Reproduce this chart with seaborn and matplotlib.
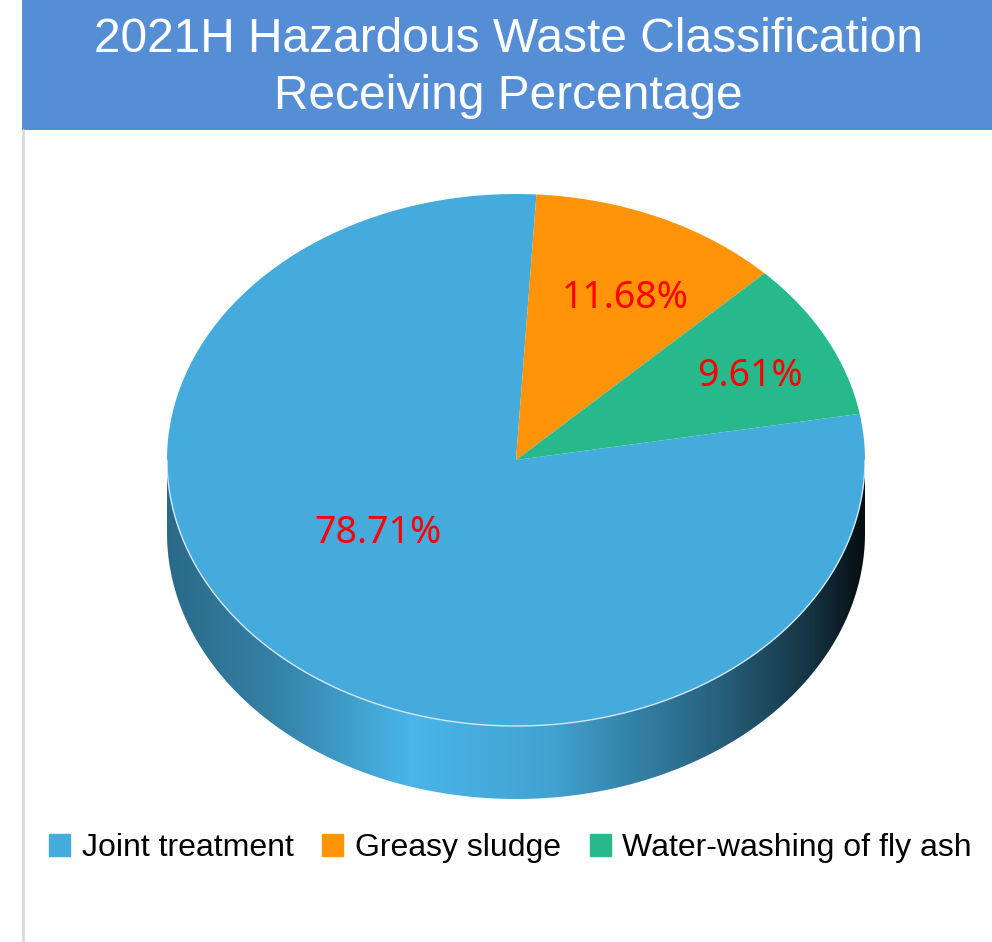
import numpy as np
import matplotlib
matplotlib.use("Agg")
import matplotlib.pyplot as plt
import seaborn as sns
from matplotlib.patches import Rectangle, Polygon, Patch
from matplotlib.lines import Line2D
from matplotlib.colors import to_rgb

# data
categories = ["Joint treatment", "Greasy sludge", "Water-washing of fly ash"]
shares = [78.71, 11.68, 9.61]
share_labels = ["78.71%", "11.68%", "9.61%"]
colors = ["#45ABDC", "#FF9408", "#27B98C"]
title = "2021H Hazardous Waste Classification\nReceiving Percentage"

sns.set_theme(style="white")
plt.rcParams["font.family"] = ["Liberation Sans", "DejaVu Sans"]
plt.rcParams["text.color"] = "black"
palette = sns.color_palette(colors)

W, H = 992, 942
fig = plt.figure(figsize=(W / 100, H / 100), dpi=100)
fig.patch.set_facecolor("white")

# header bar and the thin rule on the left
fig.add_artist(Rectangle((22 / W, 1 - 130 / H), 1 - 22 / W, 130 / H,
                         transform=fig.transFigure, color="#558ED5", lw=0))
fig.add_artist(Line2D([23 / W, 23 / W], [0, 1 - 130 / H],
                      transform=fig.transFigure, color="#D9D9D9", lw=2))
fig.text(508 / W, 1 - 68 / H, title, ha="center", va="center",
         color="white", fontsize=34.5, linespacing=1.33)

# pie axes: unit circle is squashed into the top face ellipse, wall hangs below
x0, x1, ytop, ybot, ybottom_wall = 167, 865, 194, 726, 799
ry = (ybot - ytop) / 2
depth = (ybottom_wall - ybot) / ry
ax = fig.add_axes([x0 / W, 1 - ybottom_wall / H, (x1 - x0) / W, (ybottom_wall - ytop) / H])

wedges, _ = ax.pie(shares, colors=palette, startangle=10, counterclock=False,
                   wedgeprops=dict(linewidth=0), radius=1)
for w in wedges:
    w.set_zorder(3)

# side wall of the 3D pie, shaded left-to-right
t = np.linspace(-180, 0, 721)
xs = np.linspace(-1, 1, 400)
shade = np.interp(xs, [-1, -0.7, -0.3, 0.1, 0.6, 0.85, 1.0],
                  [0.62, 0.75, 1.06, 0.95, 0.55, 0.3, 0.08])
for w, c in zip(wedges, colors):
    inside = ((t - w.theta1) % 360) <= (w.theta2 - w.theta1)
    if not inside.any():
        continue
    tt = np.radians(t[inside])
    top = np.column_stack([np.cos(tt), np.sin(tt)])
    bot = np.column_stack([np.cos(tt), np.sin(tt) - depth])[::-1]
    poly = Polygon(np.vstack([top, bot]), closed=True, facecolor="none", lw=0)
    ax.add_patch(poly)
    img = np.clip(np.array(to_rgb(c))[None, None, :] * shade[None, :, None], 0, 1)
    im = ax.imshow(img, extent=[-1, 1, -1 - depth, 0], aspect="auto", zorder=1,
                   interpolation="bilinear")
    im.set_clip_path(poly)

# light rim where the top face meets the wall
tr = np.radians(t)
ax.plot(np.cos(tr), np.sin(tr), color="#D3E6F0", lw=1, zorder=4)

ax.set_xlim(-1, 1)
ax.set_ylim(-1 - depth, 1)
ax.set_aspect("auto")
ax.axis("off")

# percentage labels
label_xy = [(-0.395, -0.274), (0.312, 0.609), (0.670, 0.316)]
for (lx, ly), txt in zip(label_xy, share_labels):
    ax.text(lx, ly, txt, ha="center", va="center", color="#FF0000",
            fontsize=27, family=["Noto Sans", "DejaVu Sans"], zorder=5)

handles = [Patch(facecolor=c, edgecolor=c) for c in palette]
leg = fig.legend(handles, categories, loc="center", bbox_to_anchor=(510.5 / W, 1 - 848 / H),
                 ncol=3, frameon=False, fontsize=23, handlelength=0.66, handleheight=0.66,
                 handletextpad=0.36, columnspacing=0.9, borderpad=0)
for txt in leg.get_texts():
    txt.set_color("black")

fig.savefig("out.png", dpi=100)
